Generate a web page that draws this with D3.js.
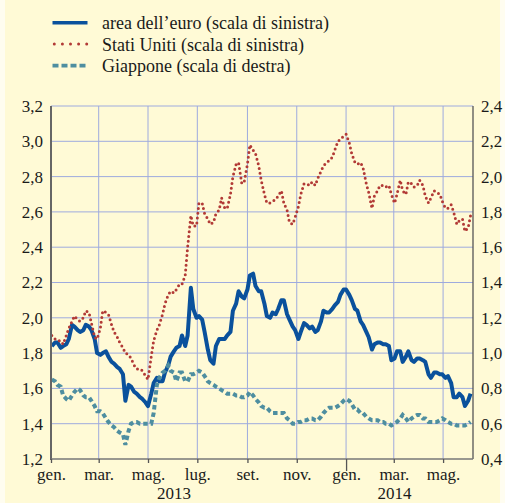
<!DOCTYPE html>
<html><head><meta charset="utf-8">
<script src="https://cdn.jsdelivr.net/npm/d3@7"></script>
<style>
html,body{margin:0;padding:0;background:#fffdf0;}
svg{display:block;}
text{font-family:"Liberation Serif","Times New Roman",serif;fill:#1a1a1a;}
</style></head><body>
<svg id="chart" width="505" height="503"></svg>
<script>
// ---- data (twice-weekly readings) ----
const dates = [
"2013-01-02","2013-01-06","2013-01-09","2013-01-13","2013-01-16","2013-01-20","2013-01-23","2013-01-27","2013-01-30",
"2013-02-03","2013-02-06","2013-02-10","2013-02-13","2013-02-17","2013-02-20","2013-02-24","2013-02-27",
"2013-03-03","2013-03-06","2013-03-10","2013-03-13","2013-03-17","2013-03-20","2013-03-24","2013-03-27","2013-03-31",
"2013-04-03","2013-04-07","2013-04-10","2013-04-14","2013-04-17","2013-04-21","2013-04-24","2013-04-28",
"2013-05-01","2013-05-05","2013-05-08","2013-05-12","2013-05-15","2013-05-19","2013-05-22","2013-05-26","2013-05-29",
"2013-06-02","2013-06-05","2013-06-09","2013-06-12","2013-06-16","2013-06-19","2013-06-23","2013-06-26","2013-06-30",
"2013-07-03","2013-07-07","2013-07-10","2013-07-14","2013-07-17","2013-07-21","2013-07-24","2013-07-28","2013-07-31",
"2013-08-04","2013-08-07","2013-08-11","2013-08-14","2013-08-18","2013-08-21","2013-08-25","2013-08-28",
"2013-09-01","2013-09-04","2013-09-08","2013-09-11","2013-09-15","2013-09-18","2013-09-22","2013-09-25","2013-09-29",
"2013-10-02","2013-10-06","2013-10-09","2013-10-13","2013-10-16","2013-10-20","2013-10-23","2013-10-27","2013-10-30",
"2013-11-03","2013-11-06","2013-11-10","2013-11-13","2013-11-17","2013-11-20","2013-11-24","2013-11-27",
"2013-12-01","2013-12-04","2013-12-08","2013-12-11","2013-12-15","2013-12-18","2013-12-22","2013-12-25","2013-12-29",
"2014-01-01","2014-01-05","2014-01-08","2014-01-12","2014-01-15","2014-01-19","2014-01-22","2014-01-26","2014-01-29",
"2014-02-02","2014-02-05","2014-02-09","2014-02-12","2014-02-16","2014-02-19","2014-02-23","2014-02-26",
"2014-03-02","2014-03-05","2014-03-09","2014-03-12","2014-03-16","2014-03-19","2014-03-23","2014-03-26","2014-03-30",
"2014-04-02","2014-04-06","2014-04-09","2014-04-13","2014-04-16","2014-04-20","2014-04-23","2014-04-27","2014-04-30",
"2014-05-04","2014-05-07","2014-05-11","2014-05-14","2014-05-18","2014-05-21","2014-05-25","2014-05-28",
"2014-06-01","2014-06-04"];

// area dell'euro (scala di sinistra)
const euroArea = [
1.84,1.86,1.86,1.83,1.84,1.85,1.88,1.96,1.95,1.93,1.92,1.93,1.96,1.95,1.93,1.88,1.80,
1.79,1.80,1.81,1.78,1.75,1.74,1.72,1.71,1.68,1.53,1.62,1.61,1.58,1.57,1.55,1.54,1.52,
1.50,1.57,1.63,1.66,1.64,1.64,1.69,1.73,1.78,1.81,1.83,1.84,1.90,1.84,1.90,2.17,2.05,2.00,
2.01,1.99,1.92,1.82,1.76,1.74,1.84,1.88,1.88,1.88,1.90,1.92,2.04,2.08,2.15,2.12,2.11,
2.16,2.24,2.25,2.18,2.15,2.15,2.08,2.01,2.00,2.03,2.02,2.05,2.10,2.10,2.02,1.99,1.95,1.93,
1.88,1.92,1.97,1.96,1.94,1.95,1.92,1.93,1.98,2.04,2.03,2.03,2.05,2.07,2.09,2.13,2.16,
2.16,2.13,2.10,2.05,2.04,1.98,1.96,1.92,1.89,1.82,1.85,1.86,1.86,1.85,1.85,1.84,1.76,1.77,
1.81,1.81,1.75,1.78,1.81,1.76,1.75,1.77,1.77,1.76,1.75,1.68,1.66,1.69,1.69,1.68,1.68,1.66,
1.67,1.63,1.55,1.55,1.57,1.55,1.50,1.53,1.57];

// Stati Uniti (scala di sinistra)
const unitedStates = [
1.90,1.88,1.87,1.87,1.85,1.90,1.94,1.98,2.01,1.99,1.98,2.00,2.04,2.03,1.97,1.89,1.88,
1.94,2.04,2.03,2.02,1.96,1.92,1.89,1.86,1.83,1.80,1.79,1.77,1.73,1.71,1.71,1.70,1.67,
1.65,1.78,1.87,1.93,1.96,2.02,2.08,2.13,2.15,2.14,2.16,2.19,2.19,2.24,2.40,2.58,2.52,2.52,
2.65,2.65,2.59,2.56,2.53,2.54,2.59,2.61,2.68,2.62,2.62,2.70,2.80,2.87,2.88,2.76,2.77,
2.87,2.98,2.95,2.93,2.86,2.78,2.70,2.65,2.65,2.66,2.67,2.69,2.72,2.65,2.61,2.54,2.53,2.57,
2.63,2.70,2.76,2.76,2.75,2.77,2.75,2.79,2.83,2.86,2.88,2.89,2.91,2.95,3.00,3.01,3.03,
3.04,2.99,2.93,2.88,2.87,2.88,2.85,2.76,2.71,2.62,2.69,2.72,2.75,2.75,2.74,2.75,2.70,2.65,
2.70,2.78,2.72,2.70,2.77,2.76,2.74,2.75,2.78,2.75,2.69,2.65,2.68,2.72,2.71,2.70,2.66,2.62,
2.62,2.64,2.60,2.53,2.55,2.56,2.49,2.51,2.58];

// Giappone (scala di destra)
const japan = [
0.85,0.84,0.82,0.81,0.76,0.74,0.73,0.76,0.78,0.80,0.79,0.76,0.75,0.75,0.73,0.70,0.67,
0.67,0.66,0.63,0.61,0.59,0.58,0.56,0.55,0.54,0.48,0.56,0.60,0.61,0.61,0.60,0.60,0.60,
0.60,0.60,0.66,0.82,0.86,0.89,0.90,0.93,0.90,0.89,0.84,0.89,0.89,0.84,0.84,0.88,0.88,0.89,
0.90,0.89,0.87,0.84,0.83,0.82,0.81,0.80,0.79,0.78,0.77,0.77,0.77,0.76,0.76,0.75,0.75,
0.76,0.78,0.76,0.74,0.72,0.70,0.69,0.69,0.67,0.66,0.66,0.66,0.66,0.66,0.63,0.62,0.60,0.60,
0.61,0.61,0.62,0.62,0.63,0.63,0.62,0.62,0.64,0.66,0.68,0.69,0.69,0.69,0.70,0.71,0.73,
0.74,0.73,0.71,0.68,0.68,0.66,0.66,0.64,0.63,0.62,0.62,0.62,0.61,0.61,0.60,0.60,0.59,0.60,
0.61,0.63,0.65,0.63,0.61,0.63,0.64,0.65,0.65,0.63,0.63,0.61,0.61,0.61,0.61,0.62,0.63,0.62,
0.61,0.60,0.60,0.59,0.59,0.59,0.59,0.60,0.61];

const seriesNames = ["area dell\u2019euro (scala di sinistra)","Stati Uniti (scala di sinistra)","Giappone (scala di destra)"];
const leftTicks = [1.2,1.4,1.6,1.8,2.0,2.2,2.4,2.6,2.8,3.0,3.2];
const rightTicks = [0.4,0.6,0.8,1.0,1.2,1.4,1.6,1.8,2.0,2.2,2.4];
const monthNames = ["gen.","feb.","mar.","apr.","mag.","giu.","lug.","ago.","set.","ott.","nov.","dic."];
const axisStart = "2013-01-01", axisEnd = "2014-06-07";

// ---- drawing ----
const parse = d3.timeParse("%Y-%m-%d");
const W = 505, H = 503;
const M = {left:51, right:473, top:106, bottom:459};
const svg = d3.select("#chart");

svg.append("rect").attr("x",5).attr("y",0).attr("width",495).attr("height",H).attr("fill","#fffad6");

const x = d3.scaleTime().domain([parse(axisStart), parse(axisEnd)]).range([M.left, M.right]);
const yL = d3.scaleLinear().domain([1.2,3.2]).range([M.bottom, M.top]);
const yR = d3.scaleLinear().domain([0.4,2.4]).range([M.bottom, M.top]);
const fmt = v => d3.format(".1f")(v).replace(".", ",");

const monthTicks = d3.timeMonth.every(2).range(parse(axisStart), parse(axisEnd));

// grid
const grid = svg.append("g").attr("stroke","#9eaade").attr("stroke-width",1);
leftTicks.slice(1).forEach(v => {
  grid.append("line").attr("x1",M.left).attr("x2",M.right).attr("y1",yL(v)).attr("y2",yL(v));
});
monthTicks.slice(1).forEach(d => {
  grid.append("line").attr("x1",x(d)).attr("x2",x(d)).attr("y1",M.top).attr("y2",M.bottom);
});

// series
const rows = dates.map((d,i) => ({date:parse(d), eu:euroArea[i], us:unitedStates[i], jp:japan[i]}));
const lineEU = d3.line().x(d=>x(d.date)).y(d=>yL(d.eu));
const lineUS = d3.line().x(d=>x(d.date)).y(d=>yL(d.us));
const lineJP = d3.line().x(d=>x(d.date)).y(d=>yR(d.jp));

const cEU = "#0a519c", cUS = "#b23a36", cJP = "#4e8ea0";

svg.append("path").datum(rows).attr("d",lineEU).attr("fill","none")
  .attr("stroke",cEU).attr("stroke-width",4).attr("stroke-linejoin","round");
svg.append("path").datum(rows).attr("d",lineUS).attr("fill","none")
  .attr("stroke",cUS).attr("stroke-width",3).attr("stroke-linecap","round")
  .attr("stroke-dasharray","0 4.8");
svg.append("path").datum(rows).attr("d",lineJP).attr("fill","none")
  .attr("stroke",cJP).attr("stroke-width",4).attr("stroke-dasharray","4.5 3");

// axes
const ax = svg.append("g");
ax.append("line").attr("x1",M.left).attr("x2",M.left).attr("y1",M.top).attr("y2",M.bottom+1)
  .attr("stroke","#666").attr("stroke-width",2);
ax.append("line").attr("x1",M.right).attr("x2",M.right).attr("y1",M.top).attr("y2",M.bottom)
  .attr("stroke","#555").attr("stroke-width",1.3);

const xAxis = d3.axisBottom(x).tickValues(monthTicks)
  .tickFormat(d => monthNames[d.getMonth()]).tickSize(4).tickPadding(6);
const gx = svg.append("g").attr("transform",`translate(0,${M.bottom})`).call(xAxis);
gx.select(".domain").attr("stroke","#777").attr("stroke-width",1.5).attr("d",`M${M.left},0H${M.right}`);
gx.selectAll(".tick line").attr("stroke","#555").attr("stroke-width",1.3)
  .attr("y2", d => d.getMonth()===0 && d.getFullYear()>2013 ? 12 : 4);
gx.selectAll(".tick text").attr("font-size",17).attr("y",null).attr("dy",null)
  .attr("transform","translate(0,21)").style("font-family",'"Liberation Serif",serif').attr("fill","#1a1a1a");

// year labels centred over the first and last tick of each year
d3.groups(monthTicks, d => d.getFullYear()).forEach(([yr, ds]) => {
  const cx = (x(ds[0]) + x(ds[ds.length-1]))/2;
  svg.append("text").attr("x",cx).attr("y",499).attr("text-anchor","middle").attr("font-size",17).text(yr);
});

// y labels
svg.append("g").selectAll("text").data(leftTicks).join("text")
  .attr("x",43).attr("y",d=>yL(d)).attr("dy","0.35em").attr("text-anchor","end")
  .attr("font-size",17).text(fmt);
svg.append("g").selectAll("text").data(rightTicks).join("text")
  .attr("x",481).attr("y",d=>yR(d)).attr("dy","0.35em").attr("text-anchor","start")
  .attr("font-size",17).text(fmt);

// legend
const lg = svg.append("g");
const legY = [22.7, 44, 65.7];
const styles = [
  {stroke:cEU, w:3.5, dash:null, cap:"butt"},
  {stroke:cUS, w:3, dash:"0 8.1", cap:"round"},
  {stroke:cJP, w:3.7, dash:"6 3", cap:"butt"}
];
seriesNames.forEach((name,i) => {
  const s = styles[i];
  const l = lg.append("line").attr("x1", i===1?54.3:52.5).attr("x2",87.5).attr("y1",legY[i]).attr("y2",legY[i])
    .attr("stroke",s.stroke).attr("stroke-width",s.w).attr("stroke-linecap",s.cap);
  if (s.dash) l.attr("stroke-dasharray",s.dash);
  lg.append("text").attr("x",102).attr("y",legY[i]+6.7).attr("font-size",18).text(name);
});
</script>
</body></html>
